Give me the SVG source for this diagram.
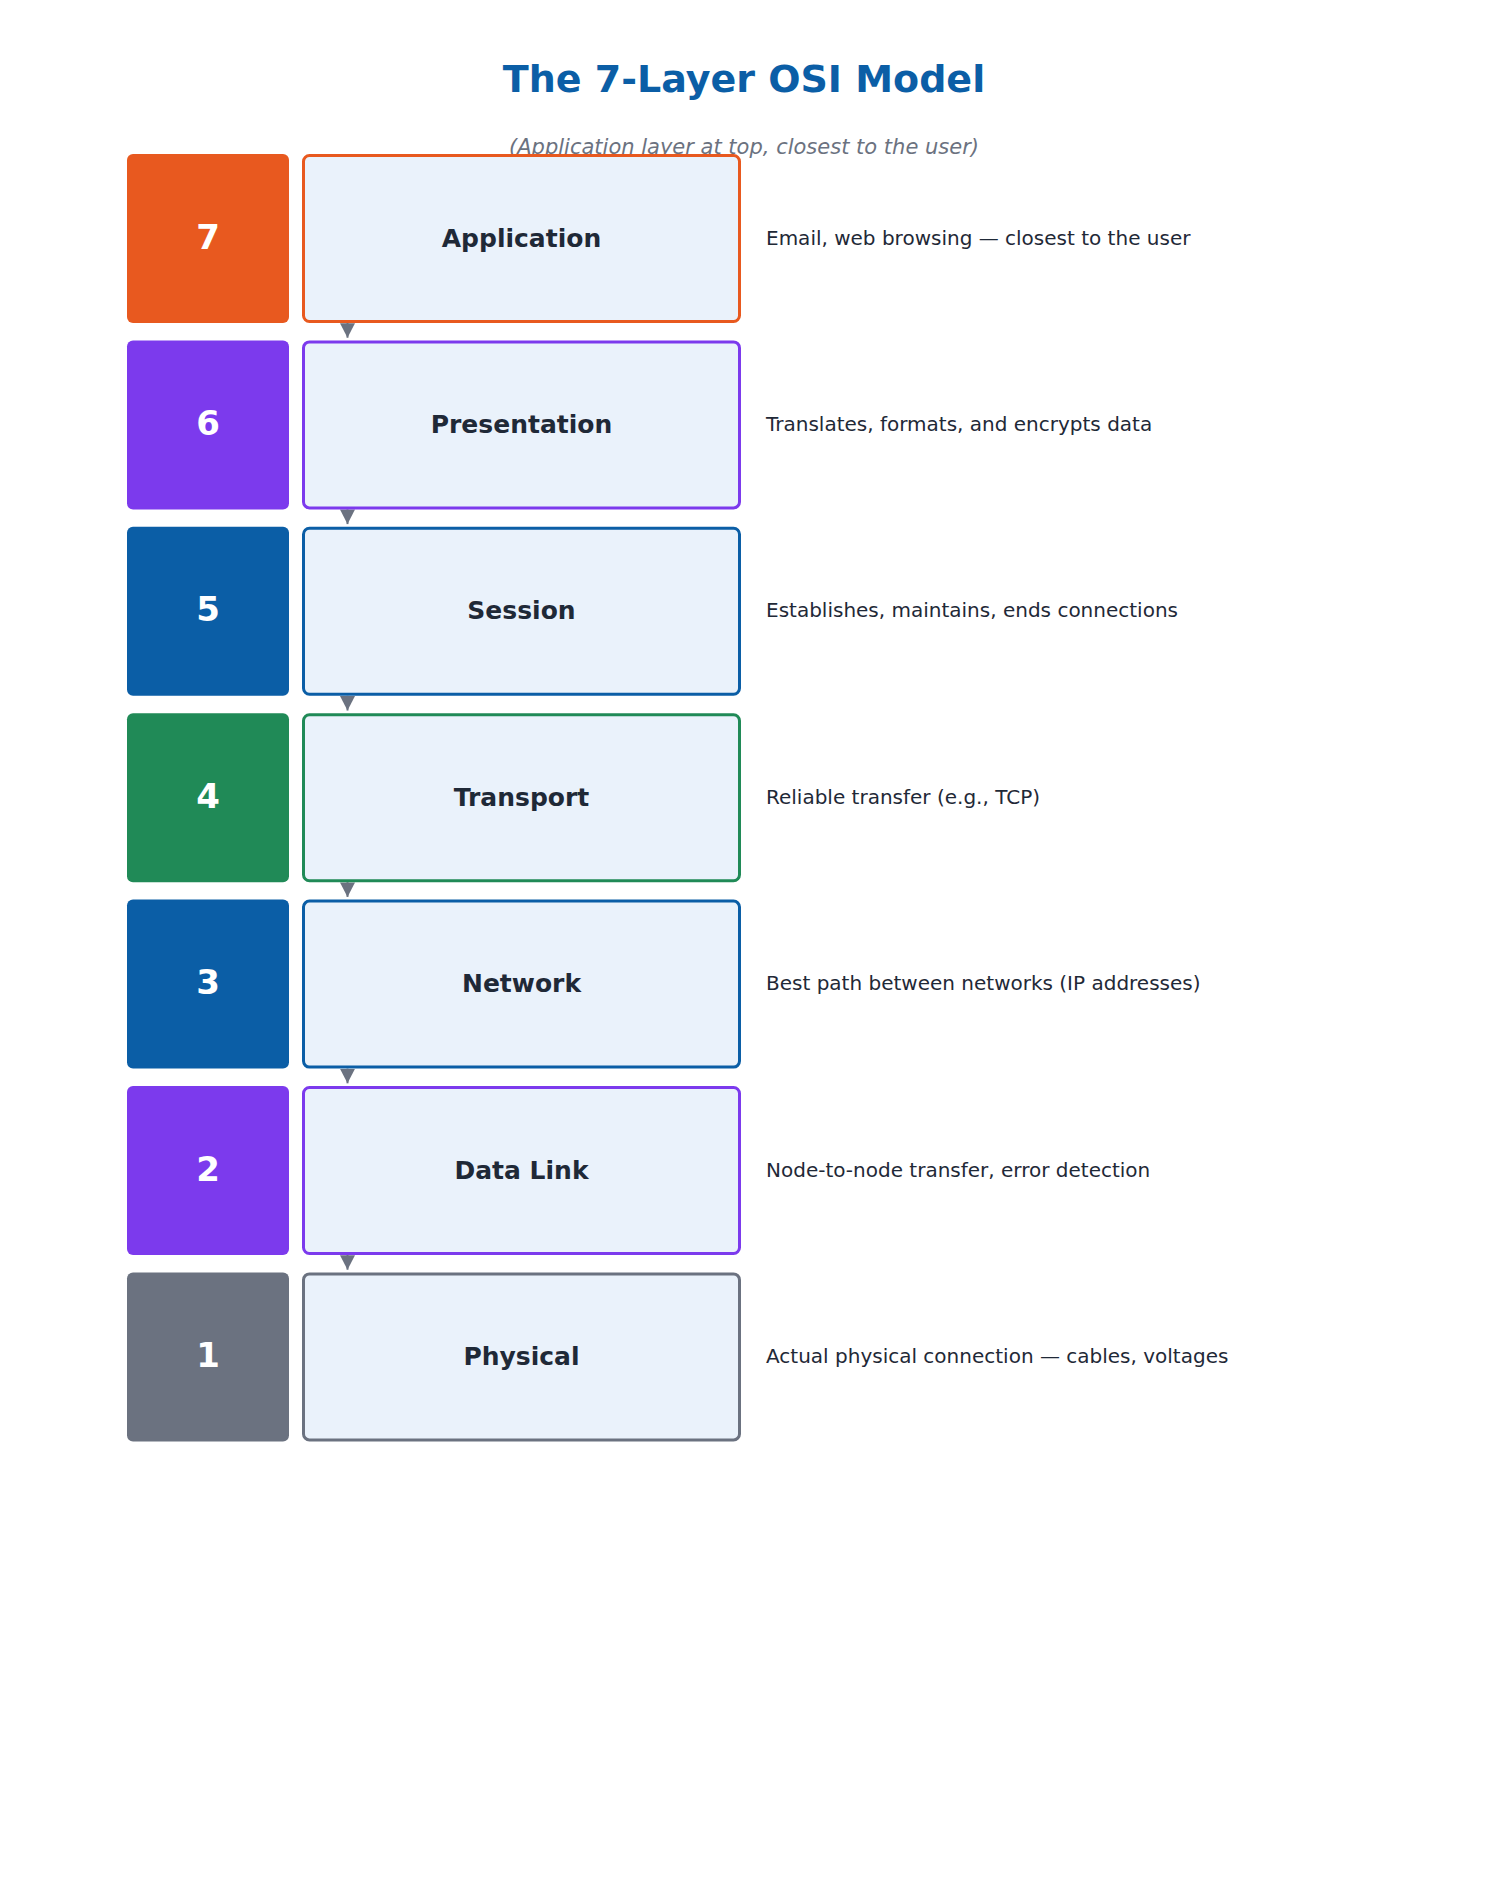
<svg xmlns="http://www.w3.org/2000/svg" width="1488" height="1904" viewBox="0 0 1488 1904">
  <defs>
    <style>
      .title { font-family: "DejaVu Sans", "Liberation Sans", sans-serif; font-weight: bold; font-size: 38px; fill: #0b5ea6; text-anchor: middle; }
      .subtitle { font-family: "DejaVu Sans", "Liberation Sans", sans-serif; font-style: italic; font-size: 21px; fill: #6b7280; text-anchor: middle; }
      .num { font-family: "DejaVu Sans", "Liberation Sans", sans-serif; font-weight: bold; font-size: 34px; fill: #ffffff; text-anchor: middle; }
      .name { font-family: "DejaVu Sans", "Liberation Sans", sans-serif; font-weight: bold; font-size: 25px; fill: #1f2937; text-anchor: middle; }
      .desc { font-family: "DejaVu Sans", "Liberation Sans", sans-serif; font-size: 20px; fill: #1f2937; }
      .box { fill: #eaf2fb; stroke-width: 3; }
      .conn { stroke: #6b7280; stroke-width: 2; fill: none; }
    </style>
    <marker id="arrow" markerUnits="userSpaceOnUse" markerWidth="15" markerHeight="15" viewBox="0 0 14.5 15" refX="14.5" refY="7.5" orient="auto">
      <path d="M0,0 L14.5,7.5 L0,15 z" fill="#6b7280"/>
    </marker>
  </defs>
  <rect width="1488" height="1904" fill="#ffffff"/>

  <text class="title" x="744" y="92">The 7-Layer OSI Model</text>
  <text class="subtitle" x="744" y="153.5">(Application layer at top, closest to the user)</text>

  <g id="connectors">
    <line class="conn" x1="347.5" y1="323" x2="347.5" y2="337.7" marker-end="url(#arrow)"/>
    <line class="conn" x1="347.5" y1="509.4" x2="347.5" y2="524.1" marker-end="url(#arrow)"/>
    <line class="conn" x1="347.5" y1="695.8" x2="347.5" y2="710.5" marker-end="url(#arrow)"/>
    <line class="conn" x1="347.5" y1="882.2" x2="347.5" y2="896.9" marker-end="url(#arrow)"/>
    <line class="conn" x1="347.5" y1="1068.6" x2="347.5" y2="1083.3" marker-end="url(#arrow)"/>
    <line class="conn" x1="347.5" y1="1255" x2="347.5" y2="1269.7" marker-end="url(#arrow)"/>
  </g>

  <g id="layer7">
    <rect x="127" y="154" width="162" height="169" rx="6" fill="#e8591f"/>
    <text class="num" x="208" y="248.5">7</text>
    <rect class="box" x="303.5" y="155.5" width="436" height="166" rx="6" stroke="#e8591f"/>
    <text class="name" x="521.5" y="246.5">Application</text>
    <text class="desc" x="766" y="244.5">Email, web browsing — closest to the user</text>
  </g>

  <g id="layer6">
    <rect x="127" y="340.4" width="162" height="169" rx="6" fill="#7c3aed"/>
    <text class="num" x="208" y="434.9">6</text>
    <rect class="box" x="303.5" y="341.9" width="436" height="166" rx="6" stroke="#7c3aed"/>
    <text class="name" x="521.5" y="432.9">Presentation</text>
    <text class="desc" x="766" y="430.9">Translates, formats, and encrypts data</text>
  </g>

  <g id="layer5">
    <rect x="127" y="526.8" width="162" height="169" rx="6" fill="#0b5ea6"/>
    <text class="num" x="208" y="621.3">5</text>
    <rect class="box" x="303.5" y="528.3" width="436" height="166" rx="6" stroke="#0b5ea6"/>
    <text class="name" x="521.5" y="619.3">Session</text>
    <text class="desc" x="766" y="617.3">Establishes, maintains, ends connections</text>
  </g>

  <g id="layer4">
    <rect x="127" y="713.2" width="162" height="169" rx="6" fill="#208a57"/>
    <text class="num" x="208" y="807.7">4</text>
    <rect class="box" x="303.5" y="714.7" width="436" height="166" rx="6" stroke="#208a57"/>
    <text class="name" x="521.5" y="805.7">Transport</text>
    <text class="desc" x="766" y="803.7">Reliable transfer (e.g., TCP)</text>
  </g>

  <g id="layer3">
    <rect x="127" y="899.6" width="162" height="169" rx="6" fill="#0b5ea6"/>
    <text class="num" x="208" y="994.1">3</text>
    <rect class="box" x="303.5" y="901.1" width="436" height="166" rx="6" stroke="#0b5ea6"/>
    <text class="name" x="521.5" y="992.1">Network</text>
    <text class="desc" x="766" y="990.1">Best path between networks (IP addresses)</text>
  </g>

  <g id="layer2">
    <rect x="127" y="1086" width="162" height="169" rx="6" fill="#7c3aed"/>
    <text class="num" x="208" y="1180.5">2</text>
    <rect class="box" x="303.5" y="1087.5" width="436" height="166" rx="6" stroke="#7c3aed"/>
    <text class="name" x="521.5" y="1178.5">Data Link</text>
    <text class="desc" x="766" y="1176.5">Node-to-node transfer, error detection</text>
  </g>

  <g id="layer1">
    <rect x="127" y="1272.4" width="162" height="169" rx="6" fill="#6b7280"/>
    <text class="num" x="208" y="1366.9">1</text>
    <rect class="box" x="303.5" y="1273.9" width="436" height="166" rx="6" stroke="#6b7280"/>
    <text class="name" x="521.5" y="1364.9">Physical</text>
    <text class="desc" x="766" y="1362.9">Actual physical connection — cables, voltages</text>
  </g>
</svg>
